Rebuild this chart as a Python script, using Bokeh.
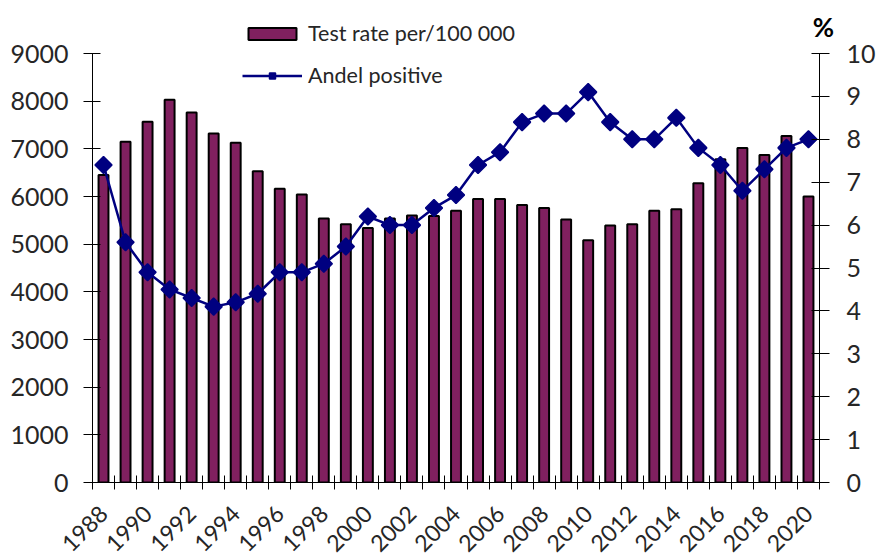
import math
from bokeh.plotting import figure
from bokeh.models import (Range1d, LinearAxis, FixedTicker, Legend, LegendItem,
                          Label, ColumnDataSource)
from bokeh.embed import file_html
from bokeh.resources import INLINE

years = list(range(1988, 2021))
test_rate = [6450, 7150, 7570, 8030, 7760, 7320, 7130, 6530, 6160, 6040,
             5540, 5420, 5340, 5540, 5600, 5590, 5700, 5950, 5950, 5820,
             5760, 5520, 5080, 5390, 5420, 5700, 5730, 6280, 6780, 7020,
             6870, 7270, 6000]
andel_positive = [7.4, 5.6, 4.9, 4.5, 4.3, 4.1, 4.2, 4.4, 4.9, 4.9,
                  5.1, 5.5, 6.2, 6.0, 6.0, 6.4, 6.7, 7.4, 7.7, 8.4,
                  8.6, 8.6, 9.1, 8.4, 8.0, 8.0, 8.5, 7.8, 7.4, 6.8,
                  7.3, 7.8, 8.0]
left_ticks = list(range(0, 9001, 1000))
right_ticks = list(range(0, 11))
year_labels = [y for y in years if y % 2 == 0]
bar_label = "Test rate per/100 000"
line_label = "Andel positive"

FONT = "Lato"
TXT = "#262626"
BAR = "#80205F"
NAVY = "#000080"

# layout (pixels)
FRAME_W, FRAME_H = 727, 477
AXIS_H = 429  # pixel height of the 0..max tick span
scale = FRAME_H / AXIS_H

src = ColumnDataSource(dict(year=years, rate=test_rate, pct=andel_positive))

p = figure(frame_width=FRAME_W, frame_height=FRAME_H,
           output_backend="svg", toolbar_location=None,
           x_range=Range1d(years[0] - 0.5, years[-1] + 0.5),
           y_range=Range1d(0, left_ticks[-1] * scale),
           min_border_left=92, min_border_right=58,
           min_border_top=5, min_border_bottom=74)
p.extra_y_ranges = {"pct": Range1d(0, right_ticks[-1] * scale)}
p.outline_line_color = None
p.xgrid.visible = False
p.ygrid.visible = False

bars = p.vbar(x="year", top="rate", width=0.45, source=src,
              fill_color=BAR, line_color="black", line_width=2)
ln = p.line(x="year", y="pct", source=src, y_range_name="pct",
            line_color=NAVY, line_width=2.5)
pts = p.scatter(x="year", y="pct", source=src, y_range_name="pct",
                marker="square", angle=math.pi / 4, size=12,
                fill_color=NAVY, line_color=NAVY, line_width=1.5)

# x axis
xa = p.xaxis[0]
boundaries = [y - 0.5 for y in years] + [years[-1] + 0.5]
xa.ticker = FixedTicker(ticks=year_labels, minor_ticks=boundaries)
xa.major_tick_in = 0
xa.major_tick_out = 0
xa.minor_tick_in = 7
xa.minor_tick_out = 7
xa.minor_tick_line_color = "black"
xa.axis_line_color = "black"
xa.major_label_orientation = math.pi / 4
xa.major_label_standoff = 20
xa.major_label_text_font = FONT
xa.major_label_text_font_size = "23px"
xa.major_label_text_color = TXT

# left axis
ya = p.yaxis[0]
ya.ticker = FixedTicker(ticks=left_ticks)
ya.bounds = (left_ticks[0], left_ticks[-1])
ya.major_tick_in = 8
ya.major_tick_out = 9
ya.minor_tick_line_color = None
ya.axis_line_color = "black"
ya.major_label_standoff = 15
ya.major_label_text_font = FONT
ya.major_label_text_font_size = "25px"
ya.major_label_text_color = TXT

# right axis
ra = LinearAxis(y_range_name="pct", ticker=FixedTicker(ticks=right_ticks),
                bounds=(right_ticks[0], right_ticks[-1]))
ra.major_tick_in = 8
ra.major_tick_out = 10
ra.minor_tick_line_color = None
ra.axis_line_color = "black"
ra.major_label_standoff = 17
ra.major_label_text_font = FONT
ra.major_label_text_font_size = "25px"
ra.major_label_text_color = TXT
p.add_layout(ra, "right")

p.add_layout(Label(x=years[-1] + 0.5, y=right_ticks[-1], y_range_name="pct",
                   text="%", x_offset=4, y_offset=27, text_align="center",
                   text_baseline="alphabetic", text_font=FONT,
                   text_font_style="bold", text_font_size="26px",
                   text_color="black"), "right")

legend = Legend(items=[LegendItem(label=bar_label, renderers=[bars]),
                       LegendItem(label=line_label, renderers=[ln, pts])],
                location=(150, 394), orientation="vertical",
                glyph_width=60, glyph_height=15, label_height=26,
                spacing=16, padding=0, margin=0, label_standoff=6,
                label_text_font=FONT, label_text_font_size="21.5px",
                label_text_color=TXT, border_line_alpha=0,
                background_fill_alpha=0)
p.add_layout(legend, "center")

open("out.html", "w").write(file_html(p, INLINE))
